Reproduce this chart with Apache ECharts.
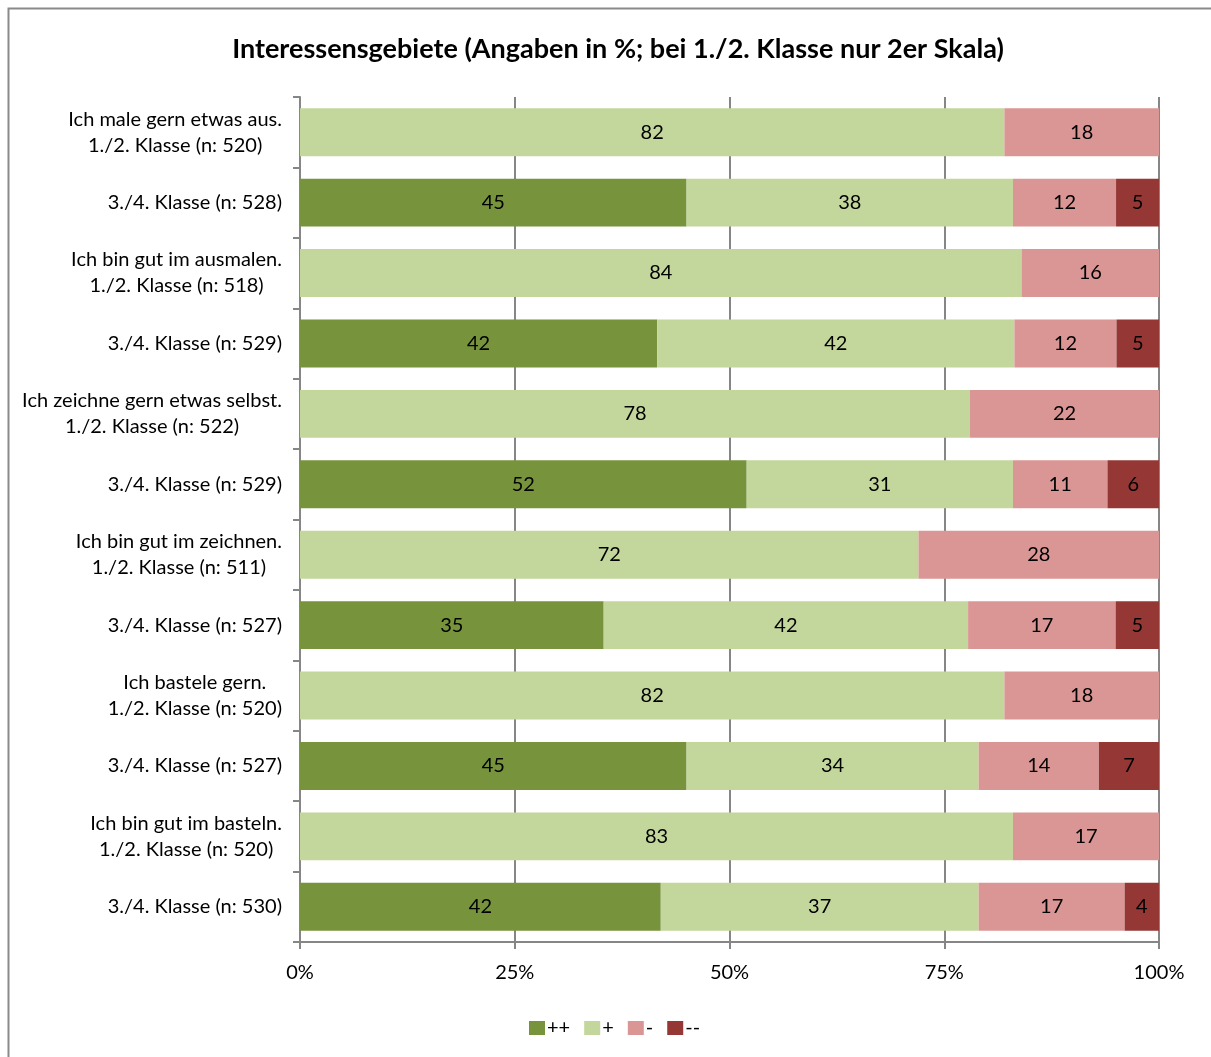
<!DOCTYPE html>
<html><head><meta charset="utf-8">
<script src="https://cdn.jsdelivr.net/npm/echarts@6/dist/echarts.min.js"></script>
<style>html,body{margin:0;padding:0;background:#fff}#c{width:1211px;height:1057px}</style>
</head><body><div id="c"></div>
<script>
const categories = [
  ['Ich male gern etwas aus.', '1./2. Klasse (n: 520)'],
  ['3./4. Klasse (n: 528)'],
  ['Ich bin gut im ausmalen.', '1./2. Klasse (n: 518)'],
  ['3./4. Klasse (n: 529)'],
  ['Ich zeichne gern etwas selbst.', '1./2. Klasse (n: 522)'],
  ['3./4. Klasse (n: 529)'],
  ['Ich bin gut im zeichnen.', '1./2. Klasse (n: 511)'],
  ['3./4. Klasse (n: 527)'],
  ['Ich bastele gern.', '1./2. Klasse (n: 520)'],
  ['3./4. Klasse (n: 527)'],
  ['Ich bin gut im basteln.', '1./2. Klasse (n: 520)'],
  ['3./4. Klasse (n: 530)']
];
const seriesNames = ['++', '+', '-', '--'];
const vPlusPlus   = [null, 45, null, 42, null, 52, null, 35, null, 45, null, 42];
const vPlus       = [82, 38, 84, 42, 78, 31, 72, 42, 82, 34, 83, 37];
const vMinus      = [18, 12, 16, 12, 22, 11, 28, 17, 18, 14, 17, 17];
const vMinusMinus = [null, 5, null, 5, null, 6, null, 5, null, 7, null, 4];
const xTicks = ['0%', '25%', '50%', '75%', '100%'];
const colors = ['#77933C', '#C3D69B', '#D99694', '#953735'];

const all = [vPlusPlus, vPlus, vMinus, vMinusMinus];
const totals = categories.map((_, i) => all.reduce((s, a) => s + (a[i] || 0), 0));
const catLabels = categories.map(c => c.join('\n'));

const chart = echarts.init(document.getElementById('c'), null, {renderer: 'canvas'});
const FONT = 'Lato';
const FS = 20;
chart.setOption({
  animation: false,
  textStyle: {fontFamily: FONT},
  title: {
    text: 'Interessensgebiete (Angaben in %; bei 1./2. Klasse nur 2er Skala)',
    left: 613, top: 31, textAlign: 'center',
    textStyle: {fontFamily: FONT, fontSize: 27, fontWeight: 'bold', color: '#000'}
  },
  graphic: [{type: 'rect', shape: {x: 8.5, y: 8.5, width: 1300, height: 1200},
    style: {fill: null, stroke: '#8a8a8a', lineWidth: 2}, silent: true, z: -10}],
  legend: {
    data: seriesNames, bottom: 14, left: 524, itemWidth: 16, itemHeight: 14, itemGap: 14,
    icon: 'rect',
    textStyle: {fontFamily: FONT, fontSize: FS, color: '#000', padding: [0, 0, 0, -3]}
  },
  grid: {left: 300, right: 52, top: 97, bottom: 115, containLabel: false},
  xAxis: {
    type: 'value', min: 0, max: 100, interval: 25,
    axisLine: {show: true, lineStyle: {color: '#868686', width: 2}},
    axisTick: {show: true, length: 7, lineStyle: {color: '#868686', width: 2}},
    splitLine: {show: true, lineStyle: {color: '#868686', width: 2}},
    axisLabel: {margin: 21, fontFamily: FONT, fontSize: FS, color: '#000',
      formatter: v => xTicks[Math.round(v / 25)]}
  },
  yAxis: {
    type: 'category', inverse: true, data: catLabels,
    axisLine: {show: true, lineStyle: {color: '#868686', width: 2}},
    axisTick: {show: true, length: 7, lineStyle: {color: '#868686', width: 2}},
    axisLabel: {margin: 18, fontFamily: FONT, fontSize: FS, color: '#000', lineHeight: 26,
      formatter: v => v.split('\n').map(l => '{c|' + l + '}').join('\n'),
      rich: {c: {align: 'center', fontFamily: FONT, fontSize: FS, color: '#000', lineHeight: 26}}}
  },
  series: all.map((arr, si) => ({
    name: seriesNames[si], type: 'bar', stack: 'total', barCategoryGap: '32%',
    itemStyle: {color: colors[si]},
    label: {show: true, position: 'inside', fontFamily: FONT, fontSize: FS, color: '#000',
      formatter: p => (p.data && p.data.raw != null) ? String(p.data.raw) : ''},
    data: arr.map((v, i) => v == null ? {value: 0, raw: null} : {value: v / totals[i] * 100, raw: v})
  }))
});
</script></body></html>
